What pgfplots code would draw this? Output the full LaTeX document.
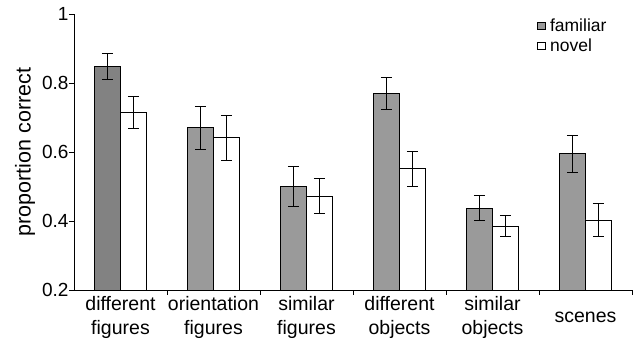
\documentclass[border=0pt]{standalone}
\usepackage{pgfplots}
\pgfplotsset{compat=1.18}
\usepackage{fontspec}
\setmainfont{Liberation Sans}
\definecolor{famdark}{HTML}{828282}
\definecolor{fam}{HTML}{9A9A9A}
\begin{document}
\begin{tikzpicture}
\useasboundingbox (-74pt,-52pt) rectangle (561pt,290pt);
\begin{axis}[
  scale only axis, width=558pt, height=276pt,
  xmin=-0.5, xmax=5.5, ymin=0.2, ymax=1,
  axis x line*=bottom, axis y line*=left,
  axis line style={-, line width=0.9pt},
  ybar, bar width=26pt,
  xtick={0,...,5},
  xticklabels={different\\figures, orientation\\figures, similar\\figures, different\\objects, similar\\objects, scenes},
  xticklabel style={align=center, anchor=center, yshift=-22pt, font=\fontsize{19.5}{24}\selectfont},
  every major x tick/.append style={draw=none},
  minor xtick={0.5,1.5,2.5,3.5,4.5,5.5},
  minor tick length=5pt,
  every minor x tick/.append style={draw=black, line width=0.9pt},
  ytick={0.2,0.4,0.6,0.8,1},
  yticklabels={0.2,0.4,0.6,0.8,1},
  yticklabel style={font=\fontsize{19}{22}\selectfont, xshift=3pt},
  major tick length=5pt,
  tick align=outside,
  every major y tick/.append style={line width=0.9pt, black},
  ylabel={proportion correct},
  ylabel style={at={(axis description cs:0,0.5)}, anchor=center, yshift=49pt, font=\fontsize{21.5}{24}\selectfont},
  legend style={draw=none, fill=none, at={(0.828,0.995)}, anchor=north west, font=\fontsize{17.5}{19}\selectfont, row sep=2.5pt, inner sep=1pt},
  legend cell align=left,
  legend image code/.code={\draw[#1, line width=0.8pt] (1pt,-3.5pt) rectangle (9pt,3.5pt); \path (11pt,0pt);},
  error bars/error bar style={line width=1.1pt, black},
  error bars/error mark options={rotate=90, mark size=5.5pt, line width=1.1pt, black},
]
\addplot[fill=fam, draw=black, line width=0.9pt, bar shift=-13pt,
  error bars/.cd, y dir=both, y explicit]
  coordinates {(1,0.670) +- (0,0.062) (2,0.500) +- (0,0.058) (3,0.770) +- (0,0.047) (4,0.437) +- (0,0.036) (5,0.595) +- (0,0.054)};
\addlegendentry{familiar}
\addplot[fill=white, draw=black, line width=0.9pt, bar shift=13pt,
  error bars/.cd, y dir=both, y explicit]
  coordinates {(0,0.714) +- (0,0.046) (1,0.641) +- (0,0.065) (2,0.472) +- (0,0.050) (3,0.551) +- (0,0.051) (4,0.385) +- (0,0.031) (5,0.403) +- (0,0.048)};
\addlegendentry{novel}
\addplot[fill=famdark, draw=black, line width=0.9pt, bar shift=-13pt, forget plot,
  error bars/.cd, y dir=both, y explicit]
  coordinates {(0,0.848) +- (0,0.038)};
\end{axis}
\end{tikzpicture}
\end{document}
